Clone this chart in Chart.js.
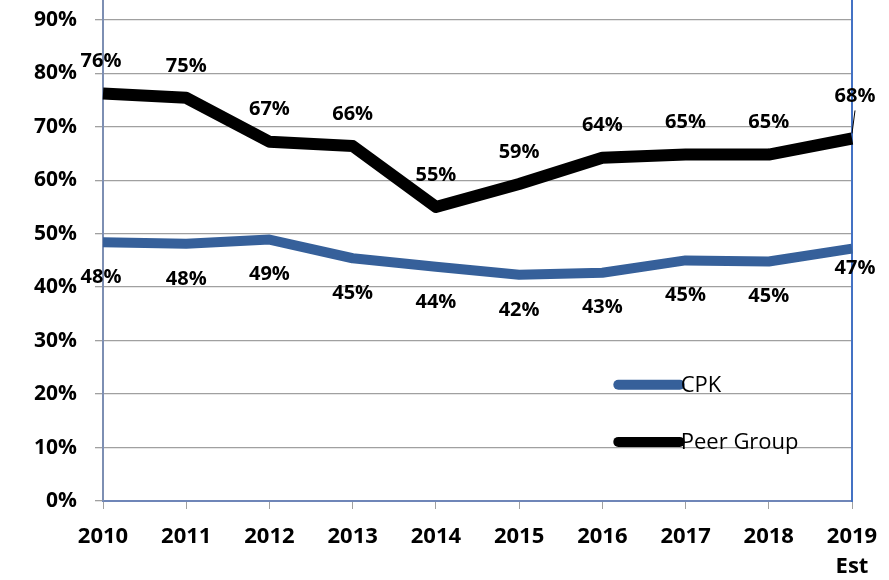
<!DOCTYPE html>
<html>
<head>
<meta charset="utf-8">
<script src="https://cdn.jsdelivr.net/npm/chart.js@4"></script>
<style>
  html, body { margin: 0; padding: 0; background: #fff; }
  #wrap { width: 889px; height: 580px; position: relative; }
</style>
</head>
<body>
<div id="wrap"><canvas id="ratioChart"></canvas></div>
<script>
// chart data
const years = ["2010", "2011", "2012", "2013", "2014", "2015", "2016", "2017", "2018", ["2019", "Est"]];
const cpkValues = [48.4, 48.1, 48.9, 45.4, 43.8, 42.3, 42.7, 45.0, 44.8, 47.2];
const peerValues = [76.2, 75.4, 67.2, 66.4, 55.0, 59.3, 64.2, 64.8, 64.8, 67.8];
const seriesNames = ["CPK", "Peer Group"];
const yTicks = [0, 10, 20, 30, 40, 50, 60, 70, 80, 90];

const FONT = "'Open Sans', sans-serif";
const CPK_COLOR = "#36609a";
const PEER_COLOR = "#000000";
const GRID_COLOR = "#a0a0a0";

// value labels above (peer) / below (cpk) each point
const valueLabels = {
    id: "valueLabels",
    afterDatasetsDraw(chart) {
        const ctx = chart.ctx;
        ctx.save();
        ctx.font = "bold 20px " + FONT;
        ctx.fillStyle = "#000";
        ctx.textAlign = "center";
        ctx.textBaseline = "middle";
        chart.data.datasets.forEach((ds, i) => {
            const meta = chart.getDatasetMeta(i);
            const last = meta.data.length - 1;
            meta.data.forEach((pt, j) => {
                const txt = Math.round(ds.data[j]) + "%";
                let dy = ds.labelSide === "above" ? -32 : 35;
                if (j === last) dy = ds.labelSide === "above" ? -42 : 20;
                const x = pt.x + (j === 0 ? -2 : j === last ? 3 : 0);
                ctx.fillText(txt, x, pt.y + dy);
                if (j === last && ds.labelSide === "above") {
                    // small leader line on the last label
                    ctx.strokeStyle = "#000";
                    ctx.lineWidth = 1;
                    ctx.beginPath();
                    ctx.moveTo(pt.x + 3, pt.y + dy + 14);
                    ctx.lineTo(pt.x, pt.y - 5);
                    ctx.stroke();
                }
            });
        });
        ctx.restore();
    },
};

// legend drawn inside the plot, lower right
const innerLegend = {
    id: "innerLegend",
    afterDraw(chart) {
        const { ctx, chartArea } = chart;
        const x0 = chartArea.left + chartArea.width * 0.688;
        const x1 = chartArea.left + chartArea.width * 0.77;
        const rows = [chartArea.top + chartArea.height * 0.768, chartArea.top + chartArea.height * 0.882];
        ctx.save();
        chart.data.datasets.forEach((ds, i) => {
            const y = rows[i];
            ctx.strokeStyle = ds.borderColor;
            ctx.lineWidth = 10;
            ctx.lineCap = "round";
            ctx.beginPath();
            ctx.moveTo(x0, y);
            ctx.lineTo(x1, y);
            ctx.stroke();
            ctx.font = "22px " + FONT;
            ctx.fillStyle = "#000";
            ctx.textAlign = "left";
            ctx.textBaseline = "middle";
            ctx.fillText(ds.label, x1 + 1, y + 1);
        });
        ctx.restore();
    },
};

// stop the axes from reserving space for half-labels at the edges
const noEdgePadding = (scale) => {
    scale.paddingTop = 0;
    scale.paddingBottom = 0;
    scale.paddingLeft = 0;
    scale.paddingRight = 0;
};

const ctx = document.getElementById("ratioChart").getContext("2d");
new Chart(ctx, {
    type: "line",
    data: {
        labels: years,
        datasets: [
            {
                label: seriesNames[0],
                data: cpkValues,
                borderColor: CPK_COLOR,
                backgroundColor: CPK_COLOR,
                borderWidth: 10,
                labelSide: "below",
            },
            {
                label: seriesNames[1],
                data: peerValues,
                borderColor: PEER_COLOR,
                backgroundColor: PEER_COLOR,
                borderWidth: 12,
                labelSide: "above",
            },
        ],
    },
    options: {
        responsive: true,
        maintainAspectRatio: false,
        animation: false,
        layout: { padding: 0 },
        elements: {
            point: { radius: 0, hoverRadius: 0 },
            line: { tension: 0, fill: false, borderJoinStyle: "round", borderCapStyle: "butt" },
        },
        scales: {
            x: {
                type: "category",
                offset: false,
                grid: { drawOnChartArea: false, drawTicks: true, tickLength: 8, color: GRID_COLOR },
                border: { color: "#6f86b8", width: 2 },
                ticks: {
                    color: "#000",
                    font: { family: FONT, size: 22, weight: "bold", lineHeight: 1.4 },
                    padding: 12,
                    maxRotation: 0,
                    autoSkip: false,
                },
                afterFit: (scale) => { scale.height = 79; noEdgePadding(scale); },
            },
            y: {
                min: 0,
                max: 93.7,
                grid: { color: GRID_COLOR, lineWidth: 1.3, tickLength: 8 },
                border: { color: "#7d8fb3", width: 2 },
                ticks: {
                    stepSize: 10,
                    color: "#000",
                    padding: 18,
                    font: { family: FONT, size: 21, weight: "bold" },
                    callback: (v) => v + "%",
                },
                afterBuildTicks: (scale) => {
                    scale.ticks = yTicks.map((v) => ({ value: v }));
                },
                afterFit: (scale) => { scale.width = 103; noEdgePadding(scale); },
            },
            yRight: {
                position: "right",
                min: 0,
                max: 93.7,
                grid: { display: false, drawTicks: false },
                border: { color: "#4472c4", width: 2 },
                ticks: { display: false },
                afterFit: (scale) => { scale.width = 37; noEdgePadding(scale); },
            },
        },
        plugins: {
            legend: { display: false },
            tooltip: { enabled: false },
            title: { display: false },
        },
    },
    plugins: [valueLabels, innerLegend],
});
</script>
</body>
</html>
